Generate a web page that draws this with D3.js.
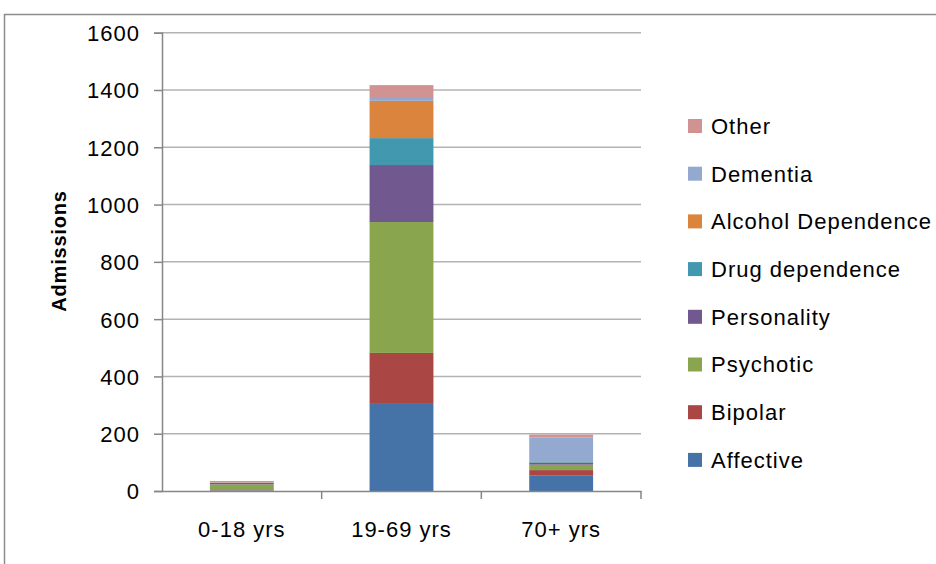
<!DOCTYPE html>
<html>
<head>
<meta charset="utf-8">
<script src="https://cdn.jsdelivr.net/npm/d3@7"></script>
<style>
  html, body { margin: 0; padding: 0; background: #fff; }
  svg { display: block; font-family: "Liberation Sans", Arial, sans-serif; }
</style>
</head>
<body>
<svg id="chart" width="936" height="564"></svg>
<script>
// ---- Data ----
const categories = ["0-18 yrs", "19-69 yrs", "70+ yrs"];
const seriesNames = ["Affective", "Bipolar", "Psychotic", "Personality", "Drug dependence", "Alcohol Dependence", "Dementia", "Other"];
const affective   = [2, 307, 55];
const bipolar     = [1, 175, 18];
const psychotic   = [20, 457, 19];
const personality = [5, 199, 7];
const drugDep     = [1, 94, 2];
const alcoholDep  = [1, 130, 3];
const dementia    = [0, 10, 83];
const other       = [5, 45, 10];
const yTicks = [0, 200, 400, 600, 800, 1000, 1200, 1400, 1600];
const colors = ["#4572A7", "#AA4643", "#89A54E", "#71588F", "#4198AF", "#DB843D", "#93A9CF", "#D19392"];

const seriesValues = [affective, bipolar, psychotic, personality, drugDep, alcoholDep, dementia, other];
const table = categories.map((c, i) => {
  const row = { cat: c };
  seriesNames.forEach((s, j) => row[s] = seriesValues[j][i]);
  return row;
});

// ---- Layout ----
const svg = d3.select("#chart");
const plot = { left: 162, right: 641, top: 32.7, bottom: 491 };

// outer chart border
svg.append("rect")
  .attr("x", 4.5).attr("y", 14.5)
  .attr("width", 1000).attr("height", 1000)
  .attr("fill", "none").attr("stroke", "#8c8c8c").attr("stroke-width", 1.5);

const x = d3.scaleBand().domain(categories)
  .range([plot.left, plot.right])
  .paddingInner(0.6).paddingOuter(0.3);
const y = d3.scaleLinear().domain([0, 1600]).range([plot.bottom, plot.top]);

// gridlines
svg.append("g").selectAll("line").data(yTicks.filter(d => d > 0)).join("line")
  .attr("x1", plot.left).attr("x2", plot.right)
  .attr("y1", d => y(d)).attr("y2", d => y(d))
  .attr("stroke", "#b3b3b3").attr("stroke-width", 1.5);

// stacked bars
const stack = d3.stack().keys(seriesNames);
const stacked = stack(table);
svg.append("g").selectAll("g").data(stacked).join("g")
  .attr("fill", (d, i) => colors[i])
  .selectAll("rect").data(d => d).join("rect")
  .attr("x", d => x(d.data.cat))
  .attr("width", x.bandwidth())
  .attr("y", d => y(d[1]))
  .attr("height", d => y(d[0]) - y(d[1]));

// y axis
const yAxis = d3.axisLeft(y).tickValues(yTicks).tickFormat(d3.format("d")).tickSize(8).tickPadding(14);
const gy = svg.append("g").attr("transform", `translate(${plot.left},0)`).call(yAxis);
gy.select(".domain").attr("stroke", "#868686").attr("stroke-width", 1.5);
gy.selectAll(".tick line").attr("stroke", "#868686").attr("stroke-width", 1.5);
gy.selectAll(".tick text")
  .attr("font-size", 22).attr("letter-spacing", "1px")
  .attr("fill", "#000").attr("font-family", "Liberation Sans, Arial, sans-serif")
  .attr("dy", "0.36em");

// x axis
const gx = svg.append("g").attr("transform", `translate(0,${plot.bottom})`)
  .call(d3.axisBottom(x).tickSize(0).tickPadding(30));
gx.select(".domain").attr("stroke", "#868686").attr("stroke-width", 1.5);
gx.selectAll(".tick text")
  .attr("font-size", 22).attr("letter-spacing", "1px")
  .attr("fill", "#000").attr("font-family", "Liberation Sans, Arial, sans-serif");
// category separator ticks
const step = x.step();
const sepX = categories.map((c, i) => x(c) - (x.step() - x.bandwidth()) / 2 + step);
svg.append("g").selectAll("line").data(sepX).join("line")
  .attr("x1", d => d).attr("x2", d => d)
  .attr("y1", plot.bottom).attr("y2", plot.bottom + 8)
  .attr("stroke", "#868686").attr("stroke-width", 1.5);

// y axis title
svg.append("text")
  .attr("transform", `translate(66,251) rotate(-90)`)
  .attr("text-anchor", "middle")
  .attr("font-size", 20).attr("font-weight", "bold").attr("letter-spacing", "0.8px")
  .text("Admissions");

// legend (reverse order)
const legendItems = seriesNames.map((s, i) => ({ name: s, color: colors[i] })).reverse();
const lg = svg.append("g").selectAll("g").data(legendItems).join("g")
  .attr("transform", (d, i) => `translate(688,${126 + i * 47.7})`);
lg.append("rect").attr("x", 0).attr("y", -7).attr("width", 14).attr("height", 14)
  .attr("fill", d => d.color);
lg.append("text").attr("x", 23).attr("y", 0).attr("dy", "0.36em")
  .attr("font-size", 22).attr("letter-spacing", "1px")
  .text(d => d.name);
</script>
</body>
</html>
